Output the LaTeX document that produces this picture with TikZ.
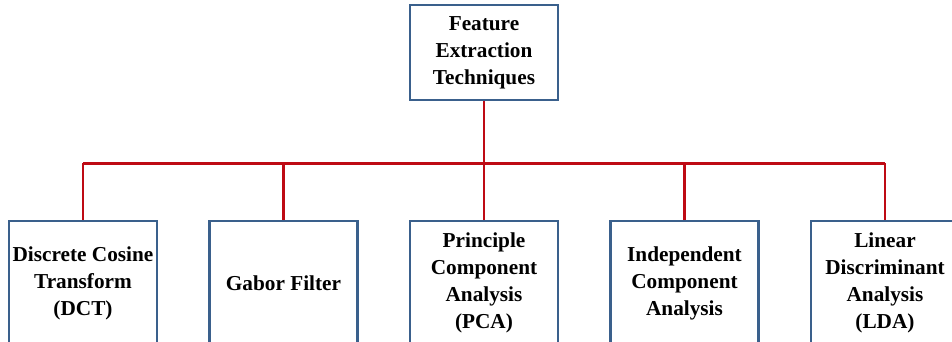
\documentclass[tikz,border=0pt]{standalone}
\usepackage{fontspec}
\setmainfont{Liberation Serif}
\usepackage[dvipsnames]{xcolor}
\usetikzlibrary{calc}
\definecolor{boxblue}{RGB}{58,96,140}
\definecolor{busred}{RGB}{190,10,20}

\begin{document}
\begin{tikzpicture}[-,thick,node distance=4.01cm,
    main node/.style={rectangle,draw=boxblue,line width=1.7pt,inner sep=0.03cm,minimum width=2.96cm,align=center,font=\fontsize{12.1}{15.4}\selectfont\bfseries},
    top node/.style={main node,minimum height=1.9cm},
    tech node/.style={main node,minimum height=2.48cm},
    bus line/.style={draw=busred,line width=1.7pt}]
                \useasboundingbox (0,0) rectangle (19.04,-6.84);
                \node[top node] (fet) at (9.68,-1.05) {Feature\\Extraction\\Techniques};
                \node[tech node] (pca) [below of=fet,node distance=4.61cm] {Principle\\Component\\Analysis\\(PCA)};
                \node[tech node] (gabor) [left of=pca] {Gabor Filter};
                \node[tech node] (dct) [left of=gabor] {Discrete Cosine\\Transform\\(DCT)};
                \node[tech node] (ica) [right of=pca] {Independent\\Component\\Analysis};
                \node[tech node] (lda) [right of=ica] {Linear\\Discriminant\\Analysis\\(LDA)};
                \coordinate (bus) at ($(fet.south)+(0,-1.24)$);

                \path[bus line]
                    (fet.south) edge (bus)
                    (dct.north) edge (dct.north |- bus)
                    (gabor.north) edge (gabor.north |- bus)
                    (pca.north) edge (pca.north |- bus)
                    (ica.north) edge (ica.north |- bus)
                    (lda.north) edge (lda.north |- bus)
                    (dct.north |- bus) edge (lda.north |- bus)
                ;

            \end{tikzpicture}
\end{document}
